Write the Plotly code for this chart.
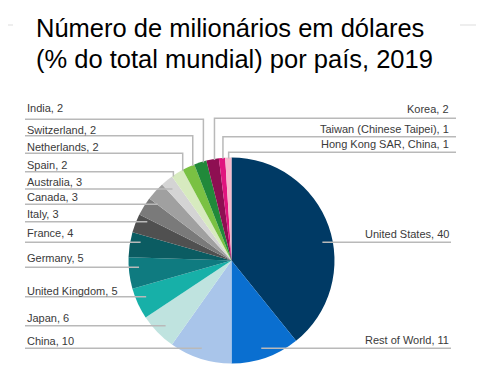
import math
import plotly.graph_objects as go

# ---------------- data ----------------
countries = ["United States", "Rest of World", "China", "Japan", "United Kingdom",
             "Germany", "France", "Italy", "Canada", "Australia", "Spain",
             "Netherlands", "Switzerland", "India", "Korea",
             "Taiwan (Chinese Taipei)", "Hong Kong SAR, China"]
shares = [40, 11, 10, 6, 5, 5, 4, 3, 3, 3, 2, 2, 2, 2, 2, 1, 1]
colors = ["#003A65", "#0A6FD0", "#A9C5EA", "#BFE3DF", "#17B0A8", "#0F7B80",
          "#0B5C62", "#505050", "#7A7A7A", "#A0A0A0", "#D4D4D4", "#D7EABF",
          "#7AC143", "#21893A", "#8E0F52", "#E0147E", "#F6B8CC"]
title_lines = ["Número de milionários em dólares", "(% do total mundial) por país, 2019"]

# ---------------- layout (page pixels) ----------------
PAGE_W, PAGE_H = 484, 387
OFF = 8                       # default body margin of the html page
FW, FH = PAGE_W - OFF, PAGE_H - OFF
CX, CY, R = 231.5, 260.5, 103
label_side = ["R", "R", "L", "L", "L", "L", "L", "L", "L", "L", "L", "L", "L", "L", "R", "R", "R"]
label_elbow = [False] * 10 + [True] * 7
line_y = [242.3, 348.3, 348.3, 325.7, 296.7, 267.3, 242.3, 221.7, 204.3, 189.0,
          171.7, 153.3, 135.7, 119.3, 118.3, 136.7, 152.3]
text_y = [234.3, 340.0, 341.0, 317.7, 291.0, 258.0, 233.0, 214.0, 197.0, 182.0,
          165.0, 147.0, 130.0, 108.0, 109.0, 129.0, 144.0]
title_y = [27.5, 58.5]
LEFT_X = 25.0
RIGHT_TEXT_X = 449.5
right_line_end = {False: 451.0, True: 456.0}
LINE_COLOR = "#B9B9B9"


def px(x):
    return (x - OFF) / FW


def py(y):
    return 1 - (y - OFF) / FH


fig = go.Figure()
fig.add_trace(go.Pie(
    values=shares, labels=countries, sort=False, direction="clockwise", rotation=0,
    marker=dict(colors=colors, line=dict(width=0)),
    textinfo="none", showlegend=False,
    domain=dict(x=[px(CX - R), px(CX + R)], y=[py(CY + R), py(CY - R)]),
))

shapes = []
annotations = []
total = sum(shares)
cum = 0.0
for i, (name, v) in enumerate(zip(countries, shares)):
    mid = (cum + v / 2) / total * 2 * math.pi
    cum += v
    ly = line_y[i]
    left = label_side[i] == "L"
    if label_elbow[i]:
        ax = CX + 0.9 * R * math.sin(mid)
        ay = CY - math.sqrt(max(R * R - (ax - CX) ** 2, 0)) + 1
        outer = LEFT_X if left else right_line_end[True]
        shapes.append(dict(type="path", xref="paper", yref="paper",
                           path=f"M{px(outer)},{py(ly)} L{px(ax)},{py(ly)} L{px(ax)},{py(ay)}",
                           line=dict(color=LINE_COLOR, width=1.5)))
    else:
        dy = ly - CY
        dx = math.sqrt(max((0.9 * R) ** 2 - dy * dy, 0))
        ax = CX - dx if left else CX + dx
        outer = LEFT_X if left else right_line_end[False]
        shapes.append(dict(type="line", xref="paper", yref="paper",
                           x0=px(outer), x1=px(ax), y0=py(ly), y1=py(ly),
                           line=dict(color=LINE_COLOR, width=1.5)))
    annotations.append(dict(
        text=f"{name}, {v}", xref="paper", yref="paper",
        x=px(LEFT_X + 0.5) if left else px(RIGHT_TEXT_X),
        y=py(text_y[i]), xanchor="left" if left else "right", yanchor="middle",
        showarrow=False, font=dict(family="Liberation Sans, Arial", size=11, color="#3A3A3A"),
        borderpad=0,
    ))

# faint rule fragments near the title
shapes.append(dict(type="line", xref="paper", yref="paper", x0=0, x1=px(13), y0=py(25), y1=py(25),
                   line=dict(color="#E8E8E8", width=1.5)))
shapes.append(dict(type="line", xref="paper", yref="paper", x0=px(460), x1=1, y0=py(25), y1=py(25),
                   line=dict(color="#E8E8E8", width=1.5)))

for t, ty in zip(title_lines, title_y):
    annotations.append(dict(
        text=t, xref="paper", yref="paper", x=px(35), y=py(ty),
        xanchor="left", yanchor="middle", align="left", showarrow=False,
        font=dict(family="Liberation Sans, Arial", size=25.5, color="#000000"), borderpad=0,
    ))

fig.update_layout(
    width=FW, height=FH, margin=dict(l=0, r=0, t=0, b=0),
    paper_bgcolor="white", plot_bgcolor="white",
    shapes=shapes, annotations=annotations,
)
fig.write_html("out.html")
